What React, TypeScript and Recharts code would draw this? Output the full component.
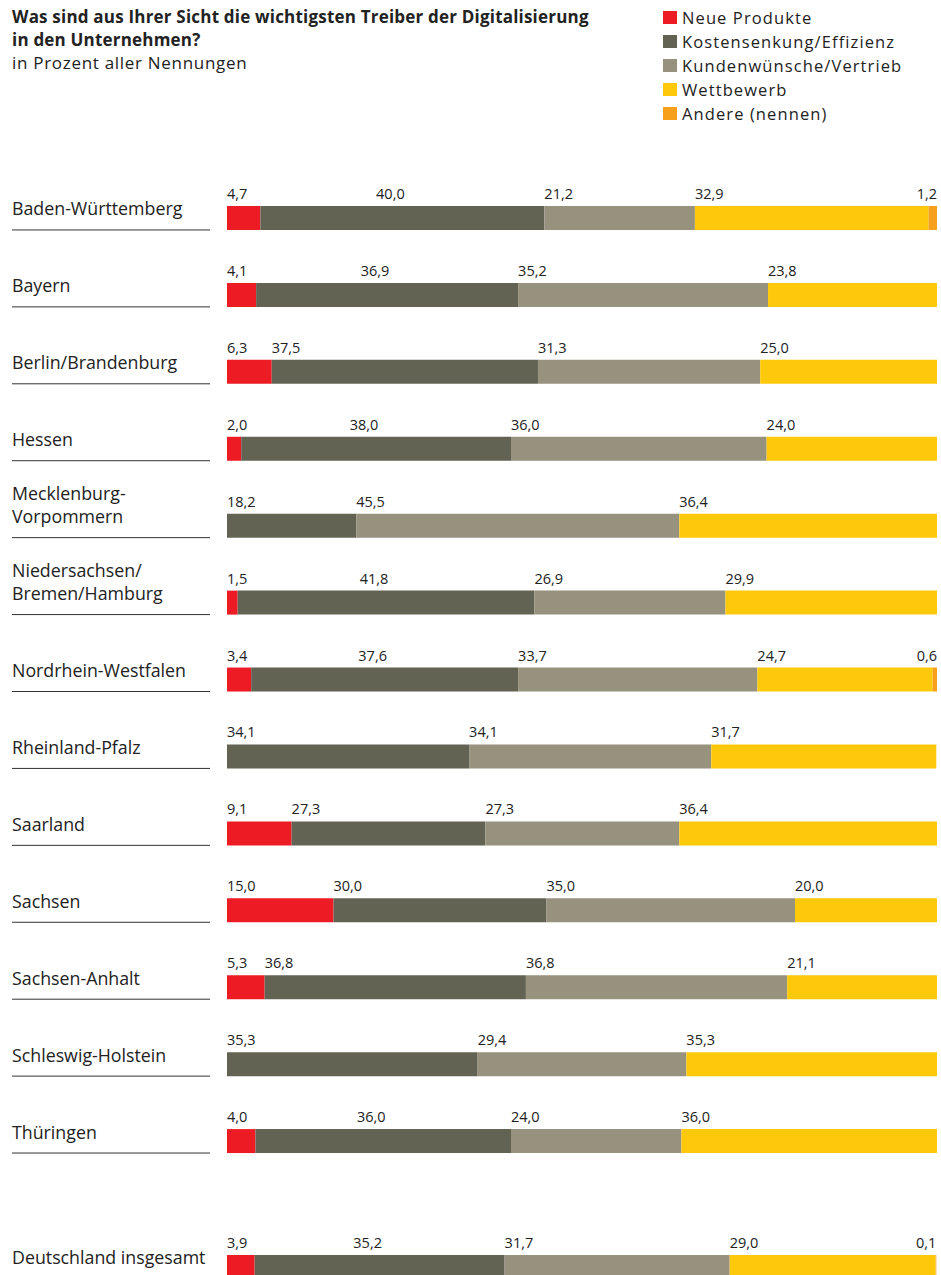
import { BarChart, Bar, XAxis, YAxis, LabelList, Legend } from 'recharts';

const states = [
  'Baden-Württemberg',
  'Bayern',
  'Berlin/Brandenburg',
  'Hessen',
  'Mecklenburg-\nVorpommern',
  'Niedersachsen/\nBremen/Hamburg',
  'Nordrhein-Westfalen',
  'Rheinland-Pfalz',
  'Saarland',
  'Sachsen',
  'Sachsen-Anhalt',
  'Schleswig-Holstein',
  'Thüringen',
];
const neue = [4.7, 4.1, 6.3, 2.0, 0, 1.5, 3.4, 0, 9.1, 15.0, 5.3, 0, 4.0];
const kosten = [40.0, 36.9, 37.5, 38.0, 18.2, 41.8, 37.6, 34.1, 27.3, 30.0, 36.8, 35.3, 36.0];
const kunden = [21.2, 35.2, 31.3, 36.0, 45.5, 26.9, 33.7, 34.1, 27.3, 35.0, 36.8, 29.4, 24.0];
const wettbewerb = [32.9, 23.8, 25.0, 24.0, 36.4, 29.9, 24.7, 31.7, 36.4, 20.0, 21.1, 35.3, 36.0];
const andere = [1.2, 0, 0, 0, 0, 0, 0.6, 0, 0, 0, 0, 0, 0];

const totalName = 'Deutschland insgesamt';
const totalValues = [3.9, 35.2, 31.7, 29.0, 0.1];

const series = [
  { key: 'neue', name: 'Neue Produkte', color: '#ED1C24' },
  { key: 'kosten', name: 'Kostensenkung/Effizienz', color: '#636354' },
  { key: 'kunden', name: 'Kundenwünsche/Vertrieb', color: '#96927E' },
  { key: 'wettbewerb', name: 'Wettbewerb', color: '#FFC90B' },
  { key: 'andere', name: 'Andere (nennen)', color: '#F7A01C' },
];

type Row = { name: string; neue: number; kosten: number; kunden: number; wettbewerb: number; andere: number };

const stateRows: Row[] = states.map((name, i) => ({
  name,
  neue: neue[i],
  kosten: kosten[i],
  kunden: kunden[i],
  wettbewerb: wettbewerb[i],
  andere: andere[i],
}));

const totalRows: Row[] = [
  {
    name: totalName,
    neue: totalValues[0],
    kosten: totalValues[1],
    kunden: totalValues[2],
    wettbewerb: totalValues[3],
    andere: totalValues[4],
  },
];

const FONT = '"Open Sans", Lato, sans-serif';
const TEXT = '#222';

const fmt = (v: number) => v.toFixed(1).replace('.', ',');

function NameTick(props: any) {
  const { y, payload } = props;
  const lines = String(payload.value).split('\n');
  return (
    <g>
      {lines.map((line, i) => (
        <text
          key={i}
          x={12}
          y={y - 3 - (lines.length - 1 - i) * 23}
          fontSize={17.8}
          fontFamily={FONT}
          fill={TEXT}
        >
          {line}
        </text>
      ))}
      <line x1={12} x2={210} y1={y + 11.5} y2={y + 11.5} stroke="#333" strokeWidth={1} />
    </g>
  );
}

// value labels sit above the segment start; the cost label moves to the middle
// when the red segment in front of it is too narrow, the last one is right aligned
function makeLabel(key: string, rows: Row[]) {
  return (props: any) => {
    const { index } = props;
    const value = Number(props.value);
    if (!value) return null;
    const x = Number(props.x);
    const y = Number(props.y);
    const width = Number(props.width);
    let tx = x;
    let anchor: 'start' | 'middle' | 'end' = 'start';
    const prev = rows[index] ? rows[index].neue : 0;
    if (key === 'kosten' && prev > 0 && prev < 5) {
      tx = x + width / 2 - 12;
      anchor = 'middle';
    }
    if (key === 'andere') {
      tx = x + width;
      anchor = 'end';
    }
    return (
      <text x={tx} y={y - 7} textAnchor={anchor} fontSize={14.5} fontFamily={FONT} fill={TEXT}>
        {fmt(value)}
      </text>
    );
  };
}

function LegendBox(props: any) {
  const order = series.map((s) => s.name);
  const items = [...(props.payload || [])].sort(
    (a: any, b: any) => order.indexOf(a.value) - order.indexOf(b.value)
  );
  return (
    <svg width={281} height={130} style={{ display: 'block' }}>
      {items.map((item: any, i: number) => (
        <g key={item.value}>
          <rect x={3} y={11 + i * 24} width={14} height={13} fill={item.color} />
          <text
            x={22}
            y={24 + i * 24}
            fontSize={16.5}
            fontFamily={FONT}
            fill={TEXT}
            letterSpacing={1.1}
          >
            {item.value}
          </text>
        </g>
      ))}
    </svg>
  );
}

function StackedRows({ rows, width, height, top, legend }: { rows: Row[]; width: number; height: number; top: number; legend?: boolean }) {
  return (
    <BarChart
      layout="vertical"
      width={width}
      height={height}
      data={rows}
      barSize={24}
      margin={{ top, right: 4, bottom: 0, left: 0 }}
    >
      <XAxis type="number" domain={[0, 100]} allowDataOverflow hide />
      <YAxis
        type="category"
        dataKey="name"
        width={227}
        axisLine={false}
        tickLine={false}
        interval={0}
        tick={<NameTick />}
      />
      {legend && (
        <Legend
          layout="vertical"
          align="center"
          verticalAlign="middle"
          content={<LegendBox />}
          wrapperStyle={{ position: 'absolute', top: 0, left: 660, width: 281, height: 130 }}
        />
      )}
      {series.map((s) => (
        <Bar key={s.key} dataKey={s.key} name={s.name} stackId="a" fill={s.color} isAnimationActive={false}>
          <LabelList dataKey={s.key} content={makeLabel(s.key, rows)} />
        </Bar>
      ))}
    </BarChart>
  );
}

export default function App() {
  return (
    <div
      style={{
        position: 'absolute',
        top: 0,
        left: 0,
        width: 941,
        height: 1275,
        overflow: 'hidden',
        background: '#fff',
        fontFamily: FONT,
        color: TEXT,
      }}
    >
      <div style={{ position: 'absolute', left: 12, top: 5, fontSize: 17, lineHeight: '23px', letterSpacing: 0.2 }}>
        <div style={{ fontWeight: 700 }}>Was sind aus Ihrer Sicht die wichtigsten Treiber der Digitalisierung</div>
        <div style={{ fontWeight: 700 }}>in den Unternehmen?</div>
        <div style={{ letterSpacing: 0.7 }}>in Prozent aller Nennungen</div>
      </div>
      <div style={{ position: 'absolute', left: 0, top: 0 }}>
        <StackedRows rows={stateRows} width={941} height={1180} top={180} legend />
      </div>
      <div style={{ position: 'absolute', left: 0, top: 1228 }}>
        <StackedRows rows={totalRows} width={941} height={77} top={0} />
      </div>
    </div>
  );
}
